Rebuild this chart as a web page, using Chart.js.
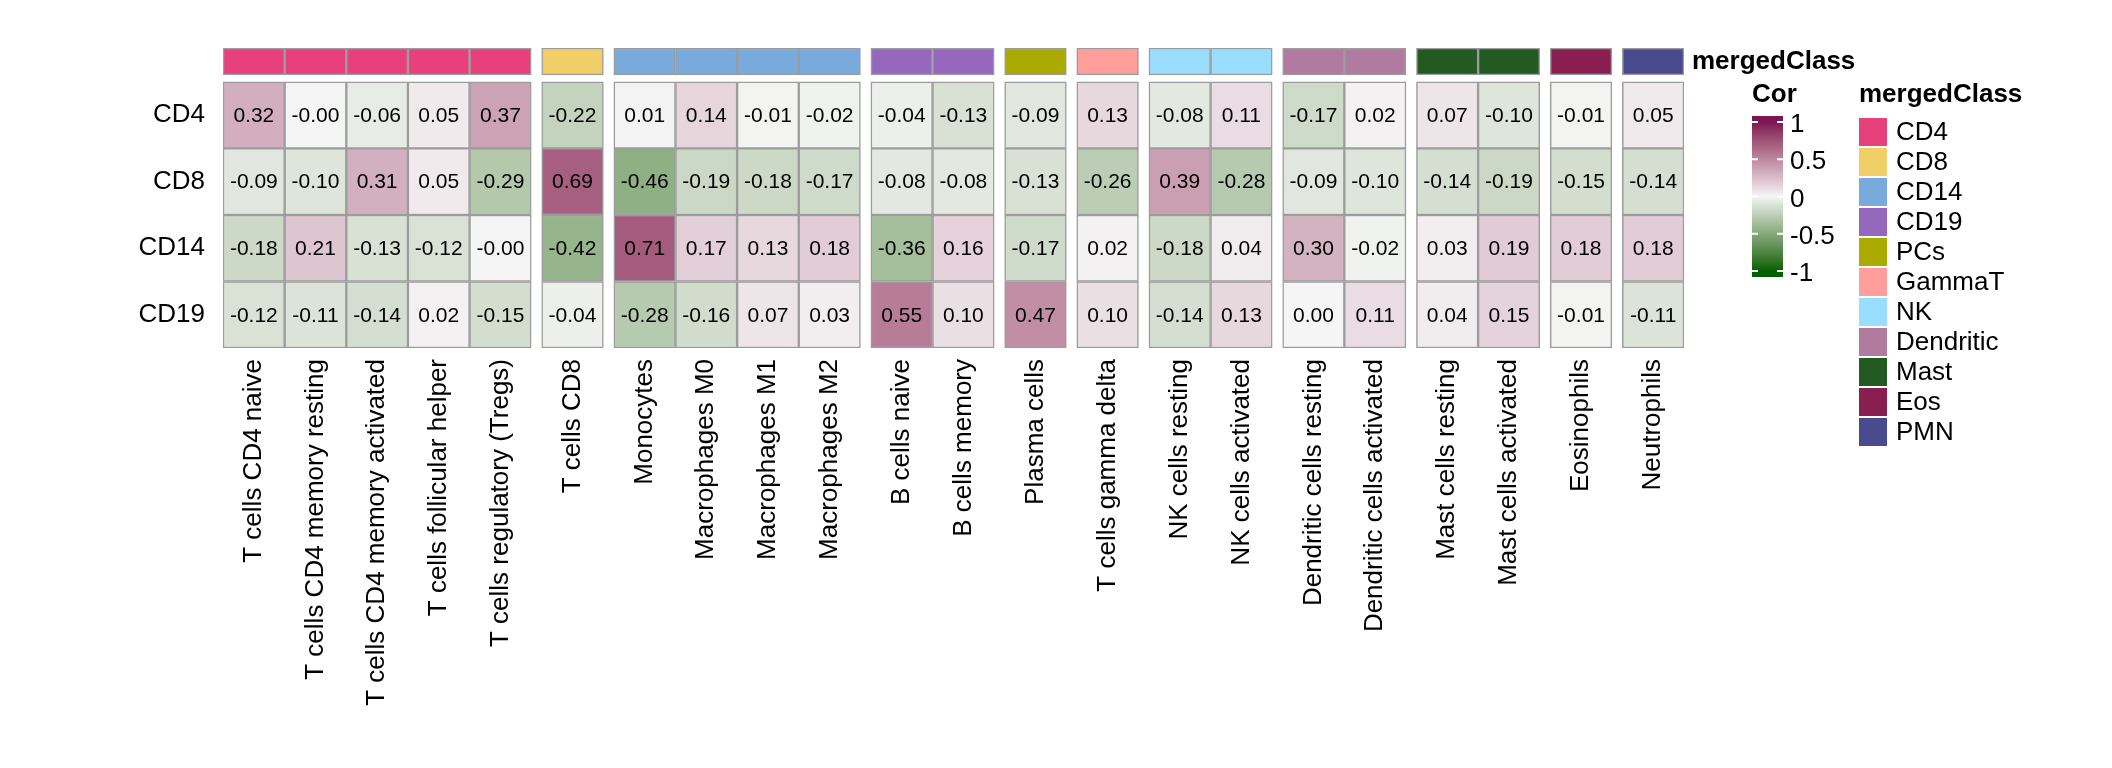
<!DOCTYPE html>
<html>
<head>
<meta charset="utf-8">
<title>Cor heatmap</title>
<script src="https://cdn.jsdelivr.net/npm/chart.js@4.4.1/dist/chart.umd.min.js"></script>
<style>
  html, body { margin: 0; padding: 0; background: #fff; }
  #wrap { width: 2112px; height: 768px; position: relative; }
</style>
</head>
<body>
<div id="wrap"><canvas id="heatmap"></canvas></div>
<script>
const rowNames = ['CD4', 'CD8', 'CD14', 'CD19'];

const cellTypes = [
  'T cells CD4 naive', 'T cells CD4 memory resting', 'T cells CD4 memory activated',
  'T cells follicular helper', 'T cells regulatory (Tregs)', 'T cells CD8',
  'Monocytes', 'Macrophages M0', 'Macrophages M1', 'Macrophages M2',
  'B cells naive', 'B cells memory', 'Plasma cells', 'T cells gamma delta',
  'NK cells resting', 'NK cells activated', 'Dendritic cells resting',
  'Dendritic cells activated', 'Mast cells resting', 'Mast cells activated',
  'Eosinophils', 'Neutrophils'
];

const cellClass = [
  'CD4', 'CD4', 'CD4', 'CD4', 'CD4', 'CD8',
  'CD14', 'CD14', 'CD14', 'CD14',
  'CD19', 'CD19', 'PCs', 'GammaT',
  'NK', 'NK', 'Dendritic', 'Dendritic', 'Mast', 'Mast',
  'Eos', 'PMN'
];

const classNames = ['CD4', 'CD8', 'CD14', 'CD19', 'PCs', 'GammaT', 'NK', 'Dendritic', 'Mast', 'Eos', 'PMN'];
const classColors = ['#E8407A', '#F0CE68', '#78AADC', '#9568BE', '#ABAA00', '#FF9E9B',
                     '#9ADEFF', '#B17BA0', '#225A22', '#891F50', '#4A4A8E'];

// -0.001 -> printed as "-0.00" like the original
const corCD4  = [0.32, -0.001, -0.06, 0.05, 0.37, -0.22, 0.01, 0.14, -0.01, -0.02, -0.04, -0.13, -0.09, 0.13, -0.08, 0.11, -0.17, 0.02, 0.07, -0.10, -0.01, 0.05];
const corCD8  = [-0.09, -0.10, 0.31, 0.05, -0.29, 0.69, -0.46, -0.19, -0.18, -0.17, -0.08, -0.08, -0.13, -0.26, 0.39, -0.28, -0.09, -0.10, -0.14, -0.19, -0.15, -0.14];
const corCD14 = [-0.18, 0.21, -0.13, -0.12, -0.001, -0.42, 0.71, 0.17, 0.13, 0.18, -0.36, 0.16, -0.17, 0.02, -0.18, 0.04, 0.30, -0.02, 0.03, 0.19, 0.18, 0.18];
const corCD19 = [-0.12, -0.11, -0.14, 0.02, -0.15, -0.04, -0.28, -0.16, 0.07, 0.03, 0.55, 0.10, 0.47, 0.10, -0.14, 0.13, 0.00, 0.11, 0.04, 0.15, -0.01, -0.11];

const legendTicks = [1, 0.5, 0, -0.5, -1];

const FONT = '"Liberation Sans", Arial, Helvetica, sans-serif';
const GAP = 0.17;   // space between column slices, in cell units

// column centres: one unit per cell, plus a small gap whenever the class changes
const centers = cellTypes.map((c, i) => i + 0.5 + classNames.indexOf(cellClass[i]) * GAP);

// colour ramp -1 / 0 / 1 interpolated in LAB space
function toLab(hex) {
  const rgb = [1, 3, 5].map(k => parseInt(hex.substr(k, 2), 16) / 255)
    .map(c => c <= 0.04045 ? c / 12.92 : Math.pow((c + 0.055) / 1.055, 2.4));
  const X = (0.4124 * rgb[0] + 0.3576 * rgb[1] + 0.1805 * rgb[2]) / 0.95047;
  const Y = 0.2126 * rgb[0] + 0.7152 * rgb[1] + 0.0722 * rgb[2];
  const Z = (0.0193 * rgb[0] + 0.1192 * rgb[1] + 0.9505 * rgb[2]) / 1.08883;
  const f = t => t > 0.008856 ? Math.cbrt(t) : 7.787 * t + 16 / 116;
  return [116 * f(Y) - 16, 500 * (f(X) - f(Y)), 200 * (f(Y) - f(Z))];
}
function fromLab(lab) {
  const fy = (lab[0] + 16) / 116, fx = fy + lab[1] / 500, fz = fy - lab[2] / 200;
  const inv = t => t * t * t > 0.008856 ? t * t * t : (t - 16 / 116) / 7.787;
  const X = inv(fx) * 0.95047, Y = inv(fy), Z = inv(fz) * 1.08883;
  const lin = [
    3.2406 * X - 1.5372 * Y - 0.4986 * Z,
    -0.9689 * X + 1.8758 * Y + 0.0415 * Z,
    0.0557 * X - 0.2040 * Y + 1.0570 * Z
  ];
  const out = lin.map(c => c <= 0.0031308 ? 12.92 * c : 1.055 * Math.pow(c, 1 / 2.4) - 0.055)
    .map(c => Math.round(Math.max(0, Math.min(1, c)) * 255));
  return 'rgb(' + out.join(',') + ')';
}
const rampLab = ['#006000', '#F5F5F5', '#7E1452'].map(toLab);
function corColor(v) {
  v = Math.max(-1, Math.min(1, v));
  const a = v < 0 ? rampLab[0] : rampLab[1];
  const b = v < 0 ? rampLab[1] : rampLab[2];
  const t = v < 0 ? v + 1 : v;
  return fromLab(a.map((c, j) => c + (b[j] - c) * t));
}

const classBar = centers.map(x => ({ x: x, y: [-0.51, -0.105] }));
const cells = [];
[corCD4, corCD8, corCD14, corCD19].forEach((row, r) => {
  row.forEach((v, i) => cells.push({ x: centers[i], y: [r, r + 1], v: v }));
});

const cellText = {
  id: 'cellText',
  afterDatasetsDraw(chart) {
    const ctx = chart.ctx;
    const meta = chart.getDatasetMeta(1);
    ctx.save();
    ctx.font = '21px ' + FONT;
    ctx.fillStyle = '#000';
    ctx.textAlign = 'center';
    ctx.textBaseline = 'middle';
    meta.data.forEach((bar, i) => {
      const d = chart.data.datasets[1].data[i];
      ctx.fillText(d.v.toFixed(2), bar.x, (bar.y + bar.base) / 2 + 1);
    });
    ctx.restore();
  }
};

const legends = {
  id: 'legends',
  afterDraw(chart) {
    const ctx = chart.ctx;
    const area = chart.chartArea;
    const yScale = chart.scales.y;
    ctx.save();
    ctx.fillStyle = '#000';
    ctx.textBaseline = 'middle';
    ctx.textAlign = 'left';

    // annotation name
    ctx.font = 'bold 26px ' + FONT;
    ctx.fillText('mergedClass', area.right + 8, yScale.getPixelForValue(-0.31) + 1);

    // colour bar
    const cbX = area.right + 68, cbW = 31;
    const yTop = 122, yBot = 271;
    const yOf = v => yTop + (1 - v) / 2 * (yBot - yTop);
    ctx.fillText('Cor', cbX, 95);
    const grad = ctx.createLinearGradient(0, yOf(1), 0, yOf(-1));
    for (let k = 0; k <= 20; k++) {
      const v = 1 - k / 10;
      grad.addColorStop(k / 20, corColor(v));
    }
    ctx.fillStyle = corColor(1);
    ctx.fillRect(cbX, 116, cbW, yOf(1) - 116);
    ctx.fillStyle = corColor(-1);
    ctx.fillRect(cbX, yOf(-1), cbW, 277 - yOf(-1));
    ctx.fillStyle = grad;
    ctx.fillRect(cbX, yOf(1), cbW, yOf(-1) - yOf(1));
    ctx.strokeStyle = '#fff';
    ctx.lineWidth = 2;
    ctx.font = '26px ' + FONT;
    legendTicks.forEach(v => {
      const y = yOf(v);
      ctx.beginPath();
      ctx.moveTo(cbX, y); ctx.lineTo(cbX + 6, y);
      ctx.moveTo(cbX + cbW - 6, y); ctx.lineTo(cbX + cbW, y);
      ctx.stroke();
      ctx.fillStyle = '#000';
      ctx.fillText(String(v), cbX + cbW + 7, y + 3);
    });

    // class legend
    const lx = area.right + 175;
    ctx.font = 'bold 26px ' + FONT;
    ctx.fillText('mergedClass', lx, 95);
    ctx.font = '26px ' + FONT;
    classNames.forEach((name, k) => {
      const y = 118 + k * 30;
      ctx.fillStyle = classColors[k];
      ctx.fillRect(lx, y, 28, 28);
      ctx.fillStyle = '#000';
      ctx.fillText(name, lx + 37, y + 15);
    });
    ctx.restore();
  }
};

new Chart(document.getElementById('heatmap'), {
  type: 'bar',
  data: {
    datasets: [
      {
        label: 'mergedClass',
        data: classBar,
        backgroundColor: ctx => classColors[classNames.indexOf(cellClass[ctx.dataIndex])],
        borderColor: '#9C9C9C',
        borderWidth: 1.5,
        borderSkipped: false,
        grouped: false,
        barPercentage: 1,
        categoryPercentage: 1
      },
      {
        label: 'Cor',
        data: cells,
        backgroundColor: ctx => corColor(ctx.raw.v),
        borderColor: '#9C9C9C',
        borderWidth: 1.5,
        borderSkipped: false,
        grouped: false,
        barPercentage: 1,
        categoryPercentage: 1
      }
    ]
  },
  options: {
    responsive: true,
    maintainAspectRatio: false,
    animation: false,
    events: [],
    layout: { padding: { left: 0, top: 48, right: 428, bottom: 0 } },
    plugins: {
      legend: { display: false },
      tooltip: { enabled: false }
    },
    scales: {
      x: {
        type: 'linear',
        offset: false,
        min: 0,
        max: cellTypes.length + (classNames.length - 1) * GAP,
        grid: { display: false },
        border: { display: false },
        afterBuildTicks: s => { s.ticks = centers.map(c => ({ value: c })); },
        afterFit: s => { s.height = 420; },
        ticks: {
          autoSkip: false,
          minRotation: 90,
          maxRotation: 90,
          padding: 3,
          color: '#000',
          font: { size: 26, family: FONT },
          callback: (v, i) => cellTypes[i]
        }
      },
      y: {
        type: 'linear',
        reverse: true,
        min: -0.51,
        max: rowNames.length,
        grid: { display: false },
        border: { display: false },
        afterBuildTicks: s => { s.ticks = rowNames.map((n, i) => ({ value: i + 0.5 })); },
        afterFit: s => { s.width = 223; },
        ticks: {
          padding: 10,
          color: '#000',
          font: { size: 26, family: FONT },
          callback: v => rowNames[Math.floor(v)]
        }
      }
    }
  },
  plugins: [cellText, legends]
});
</script>
</body>
</html>
